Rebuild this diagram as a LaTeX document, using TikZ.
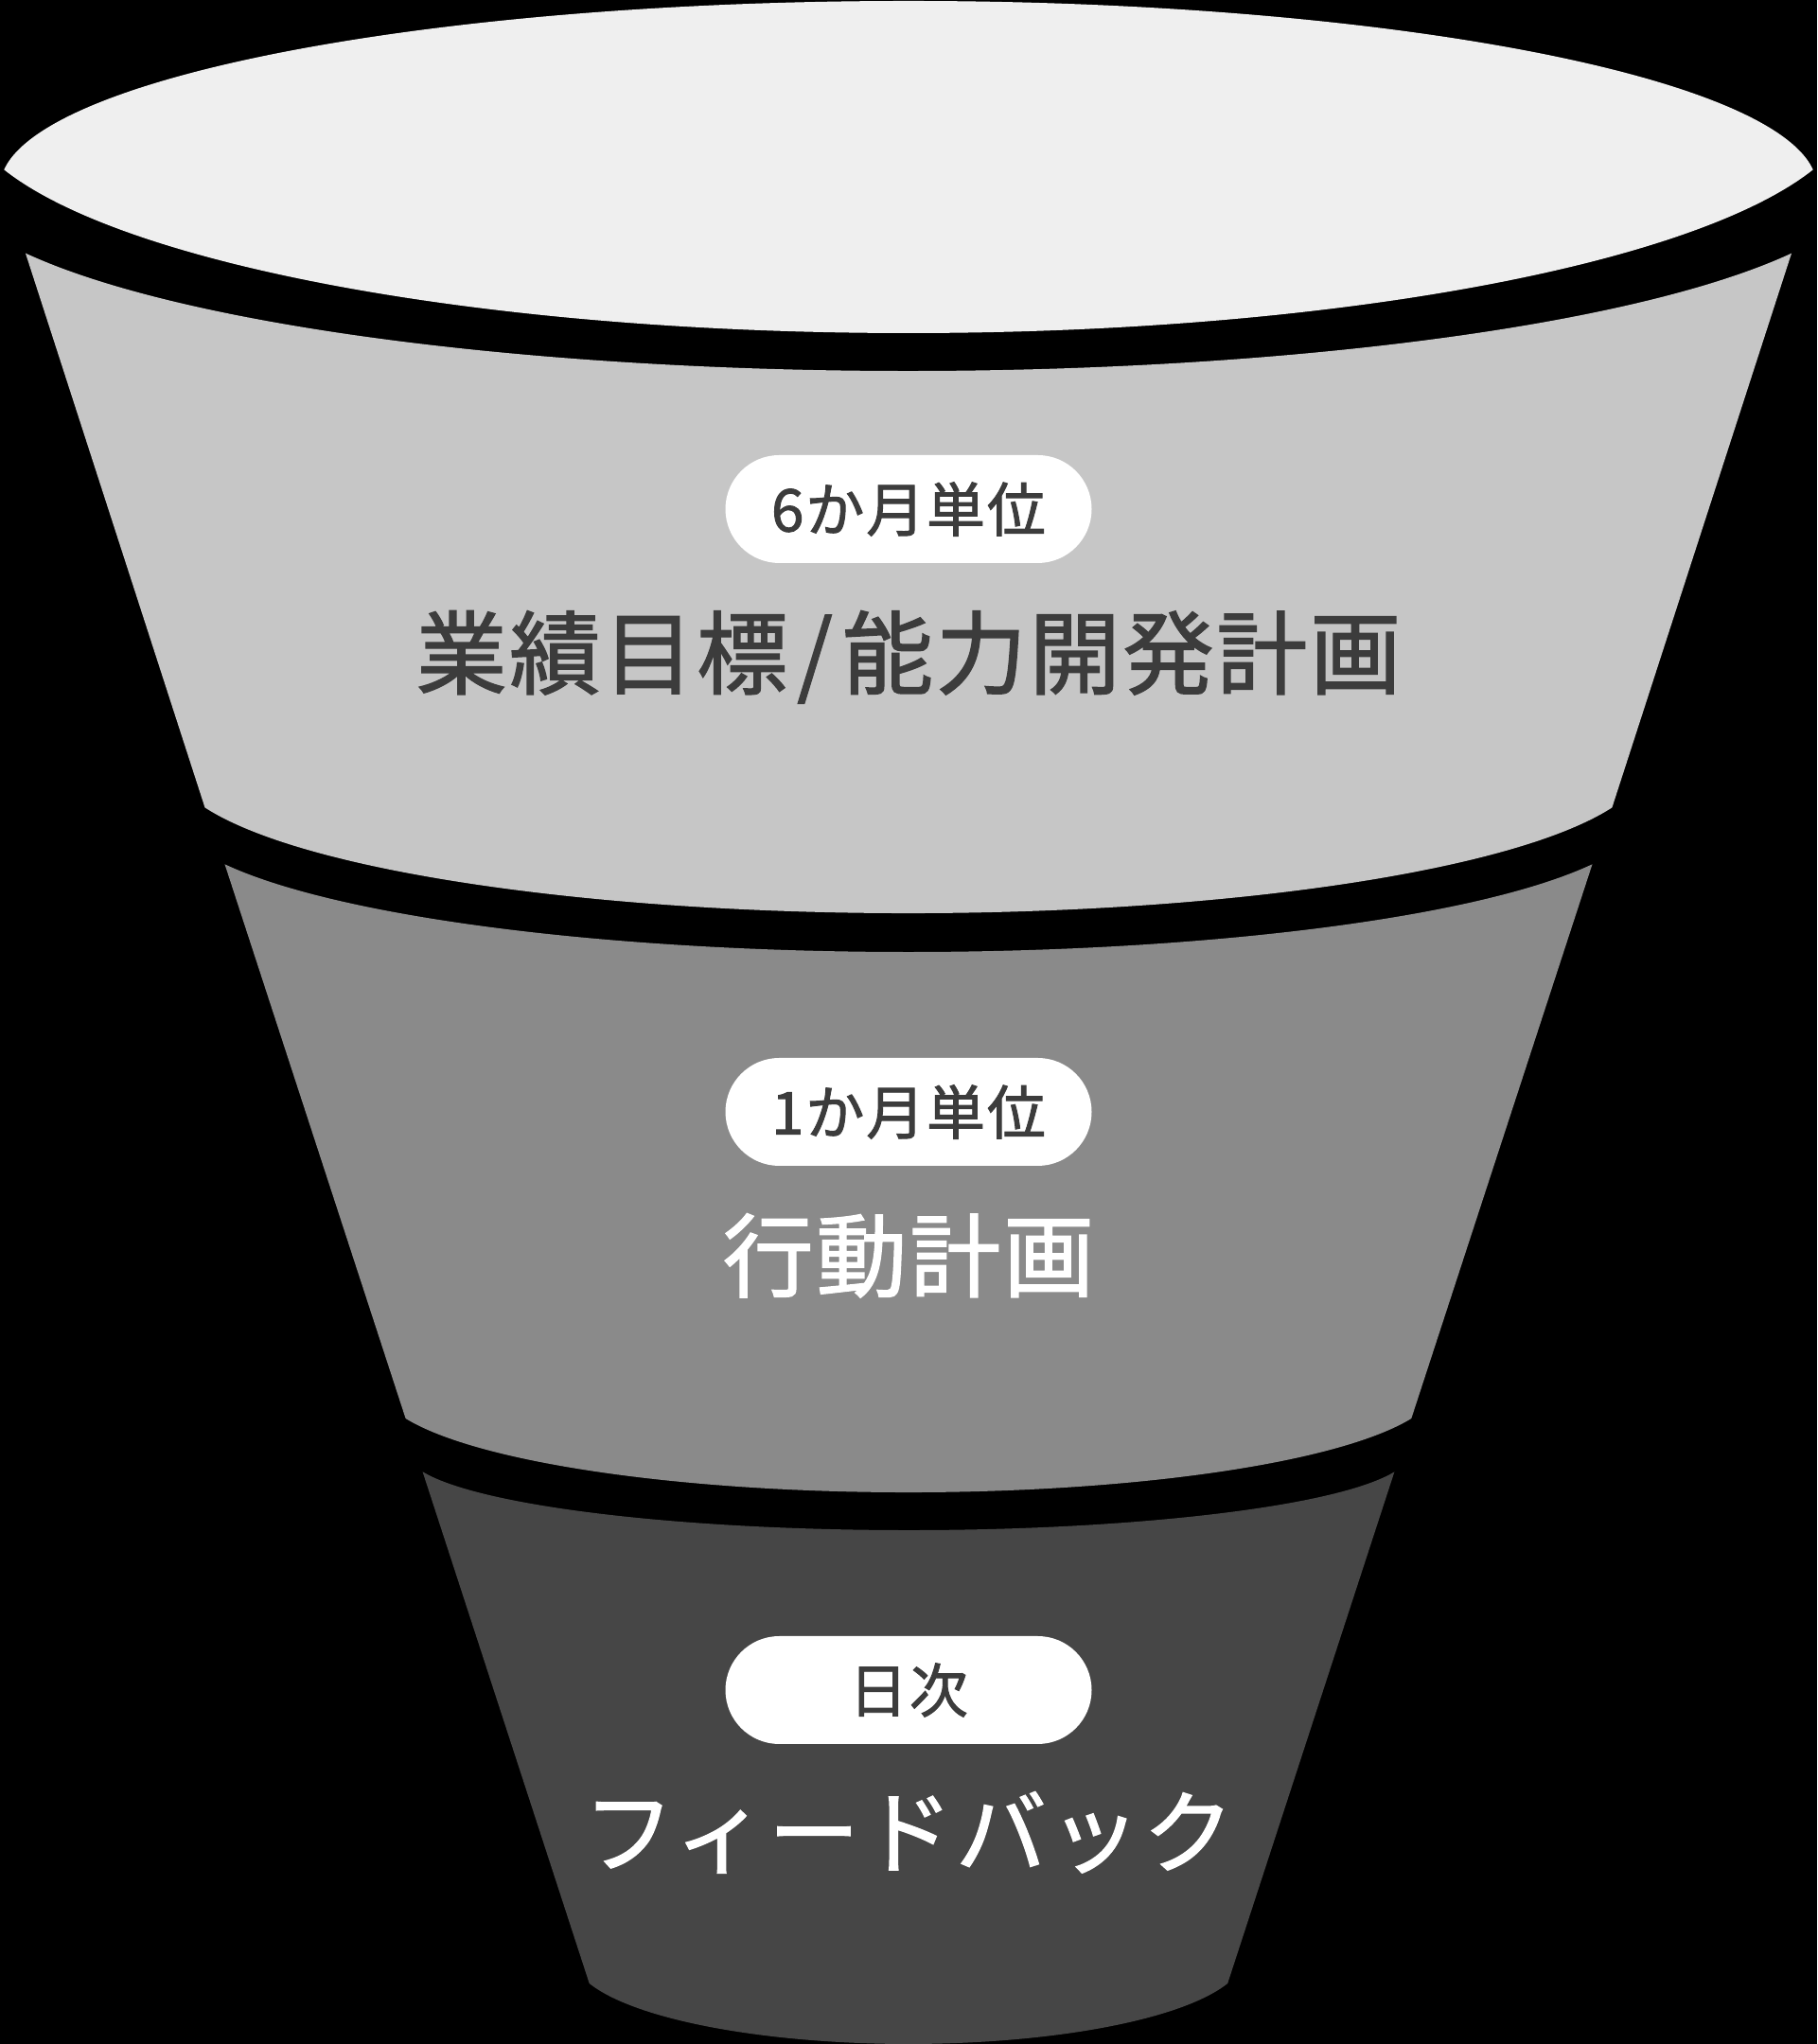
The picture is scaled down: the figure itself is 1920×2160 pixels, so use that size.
\documentclass[tikz,border=0pt]{standalone}
\usepackage{fontspec}
\newfontfamily\jpfont[LetterSpace=3, FakeBold=1.5]{Noto Sans CJK JP}
\usetikzlibrary{positioning}
\definecolor{rim}{HTML}{EFEFEF}
\definecolor{bandA}{HTML}{C6C6C6}
\definecolor{bandB}{HTML}{8A8A8A}
\definecolor{bandC}{HTML}{464646}
\definecolor{ink}{HTML}{3C3C3C}

\begin{document}
\begin{tikzpicture}[x=1pt, y=1pt,
    pill/.style={rectangle, fill=white, rounded corners=57pt, minimum width=387pt, minimum height=114pt,
      inner sep=0pt, text=ink, font=\jpfont\fontsize{62}{70}\selectfont},
    stage/.style={inner sep=0pt, font=\jpfont\fontsize{96}{110}\selectfont}]
  \useasboundingbox (0,0) rectangle (1920,2160);
  \fill[black] (0,0) rectangle (1920,2160);

  % Funnel
  \begin{scope}
    \clip (960,1962) ellipse[x radius=960, y radius=197];
    \fill[rim] (960,2053) ellipse[x radius=1000, y radius=245];
  \end{scope}
  \fill[bandA] (27,1892.3) -- (216.5,1306.6) arc[start angle=197.6, end angle=342.4, x radius=780, y radius=160]
    -- (1893,1892.3) arc[start angle=-23.84, end angle=-156.16, x radius=1020, y radius=208.6] -- cycle;
  \fill[bandB] (237.5,1246.7) -- (428.6,661) arc[start angle=198.4, end angle=341.6, x radius=560, y radius=114]
    -- (1682.5,1246.7) arc[start angle=-22.13, end angle=-157.87, x radius=780, y radius=148.7] -- cycle;
  \fill[bandC] (446.6,604.6) -- (622.7,64) arc[start angle=198.2, end angle=341.8, x radius=355, y radius=93]
    -- (1473.4,604.6) arc[start angle=-14.4, end angle=-165.6, x radius=530, y radius=82] -- cycle;

  % Labels
  \node[pill] (sixmonth) at (960,1622) {6か月単位};
  \node[stage, text=ink, below=50pt of sixmonth] (goals) {業績目標\kern10pt/\kern10pt能力開発計画};
  \node[pill] (onemonth) at (960,985) {1か月単位};
  \node[stage, text=white, below=50pt of onemonth] (actions) {行動計画};
  \node[pill] (daily) at (960,374) {日次};
  \node[stage, text=white, below=50pt of daily] (feedback) {フィードバック};
\end{tikzpicture}
\end{document}
